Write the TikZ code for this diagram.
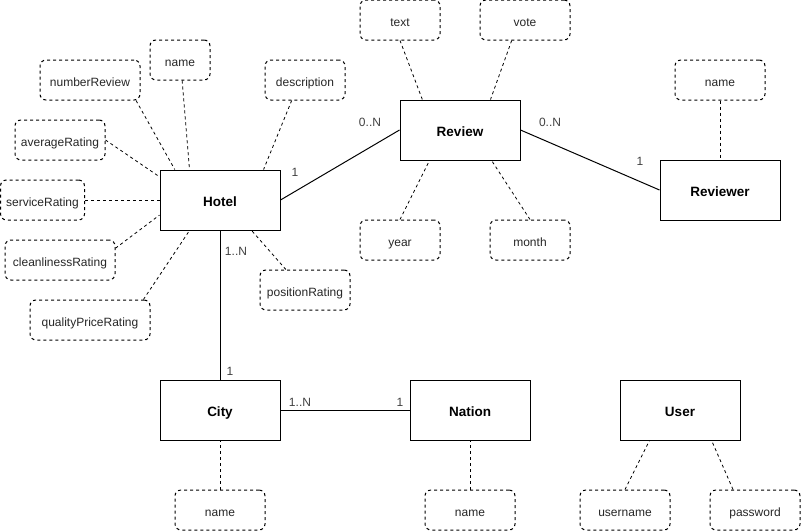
\documentclass[tikz,border=0pt]{standalone}
\usepackage{fontspec}
\setmainfont{Liberation Sans}
\begin{document}
\begin{tikzpicture}[x=1pt,y=-1pt,
  entity/.style={draw, line width=1pt, rectangle, inner sep=0pt,
    minimum width=120pt, minimum height=60pt, text height=13.4pt, text depth=0pt,
    font=\fontsize{13.5}{16}\selectfont\bfseries},
  attr/.style={draw, line width=1pt, dash pattern=on 3pt off 3pt, rectangle,
    rounded corners=6pt, inner sep=0pt, minimum height=40pt,
    text height=13.4pt, text depth=0pt,
    font=\fontsize{12}{14}\selectfont, text=black!85},
  dline/.style={line width=0.8pt, dash pattern=on 3pt off 3pt},
  sline/.style={line width=1pt},
  card/.style={font=\fontsize{12}{14}\selectfont, text=black!75, inner sep=0pt}]
\useasboundingbox (0,0) rectangle (801,531);

% entities
\node[entity] (hotel)    at (220,200) {Hotel};
\node[entity] (review)   at (460,130) {Review};
\node[entity] (reviewer) at (720,190) {Reviewer};
\node[entity] (city)     at (220,410) {City};
\node[entity] (nation)   at (470,410) {Nation};
\node[entity] (user)     at (680,410) {User};

% attributes of Hotel
\node[attr, minimum width=100pt] (numrev)  at (90,80)   {numberReview};
\node[attr, minimum width=60pt]  (hname)   at (180,60)  {name};
\node[attr, minimum width=80pt]  (descr)   at (305,80)  {description};
\node[attr, minimum width=90pt]  (avgr)    at (60,140)  {averageRating};
\node[attr, minimum width=84pt]  (servr)   at (42.5,200) {serviceRating};
\node[attr, minimum width=110pt] (cleanr)  at (60,260)  {cleanlinessRating};
\node[attr, minimum width=120pt] (qpr)     at (90,320)  {qualityPriceRating};
\node[attr, minimum width=90pt]  (posr)    at (305,290) {positionRating};

% attributes of Review
\node[attr, minimum width=80pt] (rtext)  at (400,20)  {text};
\node[attr, minimum width=90pt] (rvote)  at (525,20)  {vote};
\node[attr, minimum width=80pt] (ryear)  at (400,240) {year};
\node[attr, minimum width=80pt] (rmonth) at (530,240) {month};

% other attributes
\node[attr, minimum width=90pt] (rwname) at (720,80)  {name};
\node[attr, minimum width=90pt] (cname)  at (220,510) {name};
\node[attr, minimum width=90pt] (nname)  at (470,510) {name};
\node[attr, minimum width=90pt] (uname)  at (625,510) {username};
\node[attr, minimum width=90pt] (upass)  at (755,510) {password};

% attribute links
\draw[dline] (numrev.336) -- (hotel.146.3);
\draw[dline] (hname.276) -- (hotel.135);
\draw[dline] (descr.237) -- (hotel.35.5);
\draw[dline] (avgr.east) -- (hotel.159.9);
\draw[dline] (servr.east) -- (hotel.west);
\draw[dline] (cleanr.12.3) -- (hotel.194);
\draw[dline] (qpr.21.8) -- (hotel.225);
\draw[dline] (posr.133.5) -- (hotel.316.8);

\draw[dline] (rtext.south) -- (review.141);
\draw[dline] (rvote.237) -- (review.45);
\draw[dline] (ryear.north) -- (review.225);
\draw[dline] (rmonth.north) -- (review.316.8);

\draw[dline] (rwname.south) -- (reviewer.north);
\draw[dline] (cname.north) -- (city.south);
\draw[dline] (nname.north) -- (nation.south);
\draw[dline] (uname.north) -- (user.225);
\draw[dline] (upass.137.7) -- (user.316.8);

% relationships
\draw[sline] (hotel.east) -- (review.west);
\draw[sline] (review.east) -- (reviewer.west);
\draw[sline] (hotel.south) -- (city.north);
\draw[sline] (city.east) -- (nation.west);

% cardinalities
\node[card] (c1) at (295,172) {1};
\node[card] (c2) at (370,122) {0..N};
\node[card] (c3) at (550,122) {0..N};
\node[card] (c4) at (640,161) {1};
\node[card] (c5) at (236,251) {1..N};
\node[card] (c6) at (230,371) {1};
\node[card] (c7) at (300,402) {1..N};
\node[card] (c8) at (400,402) {1};
\end{tikzpicture}
\end{document}
